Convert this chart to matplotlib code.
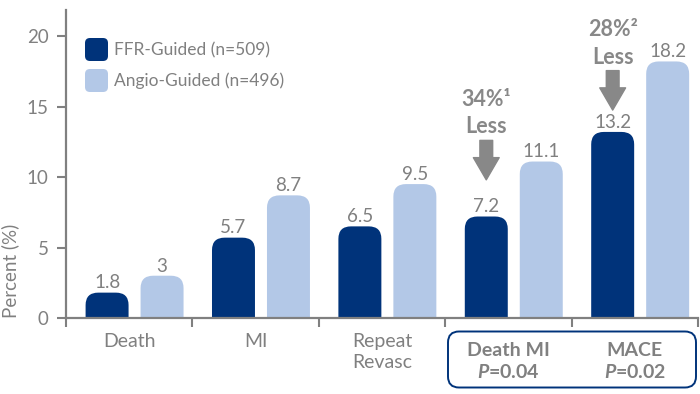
import matplotlib.pyplot as plt
from matplotlib.patches import FancyBboxPatch

plt.rcParams['font.family'] = ['Lato', 'DejaVu Sans']
plt.rcParams['mathtext.fontset'] = 'custom'
plt.rcParams['mathtext.it'] = 'Lato:italic:bold'
plt.rcParams['mathtext.rm'] = 'Lato:bold'

# data
categories = ['Death', 'MI', 'Repeat\nRevasc', 'Death MI', 'MACE']
p_values = [None, None, None, 'P=0.04', 'P=0.02']
ffr = [1.8, 5.7, 6.5, 7.2, 13.2]
angio = [3, 8.7, 9.5, 11.1, 18.2]
series_names = ['FFR-Guided (n=509)', 'Angio-Guided (n=496)']
reductions = {3: '34%¹', 4: '28%²'}
arrow_tips = {3: 9.8, 4: 14.75}

DARK = '#00337a'
LIGHT = '#b3c8e7'
GRAY = '#808080'

fig = plt.figure(figsize=(7, 3.94), dpi=100)
ax = fig.add_axes([66 / 700, 76 / 394, 632 / 700, 308 / 394])
ax.set_xlim(-0.5, 4.5)
ax.set_ylim(0, 21.85)

w = 0.34
offs = [-0.175, 0.26]
for vals, off, col in [(ffr, offs[0], DARK), (angio, offs[1], LIGHT)]:
    for i, v in enumerate(vals):
        x0 = i + off - w / 2
        # start below zero so the bottom corners get clipped square
        p = FancyBboxPatch((x0, -2), w, v + 2,
                           boxstyle='round,pad=0,rounding_size=0.1',
                           mutation_aspect=8.8, fc=col, ec='none')
        ax.add_patch(p)
        ax.annotate(f'{v:g}', xy=(i + off, v), xytext=(0, 3),
                    textcoords='offset points', ha='center', va='baseline',
                    fontsize=13.5, color=GRAY)

# spines / ticks
for s in ['top', 'right']:
    ax.spines[s].set_visible(False)
for s in ['left', 'bottom']:
    ax.spines[s].set_color(GRAY)
    ax.spines[s].set_linewidth(1.6)
ax.set_yticks([0, 5, 10, 15, 20])
ax.set_xticks([i - 0.5 for i in range(6)])
ax.set_xticklabels([])
ax.tick_params(axis='both', colors=GRAY, length=6.5, width=1.5, labelsize=13.5,
               labelcolor=GRAY)
ax.tick_params(axis='y', pad=6)

fig.text(10 / 700, 76 / 394, 'Percent (%)', rotation=90, ha='center',
         va='bottom', fontsize=13.5, color=GRAY)

# category labels
for i, c in enumerate(categories):
    if p_values[i] is None:
        ax.annotate(c, xy=(i, 0), xytext=(0, -10.5), textcoords='offset points',
                    ha='center', va='top', fontsize=14, color=GRAY,
                    linespacing=1.3)
    else:
        ax.annotate(c, xy=(i, 0), xytext=(0, -17.5), textcoords='offset points',
                    ha='center', va='top', fontsize=14, color=GRAY,
                    fontweight='bold')
        pv = p_values[i]
        ax.annotate(r'$\mathit{P}$' + pv[1:], xy=(i, 0), xytext=(0, -45),
                    textcoords='offset points', ha='center', va='bottom',
                    fontsize=14, color=GRAY, fontweight='bold')

box = FancyBboxPatch((4.48, 0.065), 2.48, 0.56, transform=fig.dpi_scale_trans,
                     boxstyle='round,pad=0,rounding_size=0.11', fc='none',
                     ec=DARK, lw=1.4)
fig.patches.append(box)

# reduction callouts
for i, txt in reductions.items():
    x = i + offs[0]
    tip = arrow_tips[i]
    ax.annotate('', xy=(x, tip), xytext=(x, tip + 2.8),
                arrowprops=dict(arrowstyle='simple,head_length=0.8,head_width=0.93,tail_width=0.46',
                                color='#888888', shrinkA=0, shrinkB=0,
                                mutation_scale=20))
    ax.text(x, tip + 5.7, txt, ha='center', va='center', fontsize=15.5,
            fontweight='bold', color='#888888')
    ax.text(x, tip + 3.75, 'Less', ha='center', va='center', fontsize=15.5,
            fontweight='bold', color='#888888')

# legend
for k, (name, col) in enumerate(zip(series_names, [DARK, LIGHT])):
    yb = (394 - 61 - 31 * k) / 100
    sq = FancyBboxPatch((0.85, yb), 0.23, 0.23, transform=fig.dpi_scale_trans,
                        boxstyle='round,pad=0,rounding_size=0.05', fc=col, ec='none')
    fig.patches.append(sq)
    fig.text(114 / 700, (394 - 50 - 31 * k) / 394, name, ha='left', va='center',
             fontsize=12.5, color=GRAY)

fig.savefig('out.png', dpi=100)
